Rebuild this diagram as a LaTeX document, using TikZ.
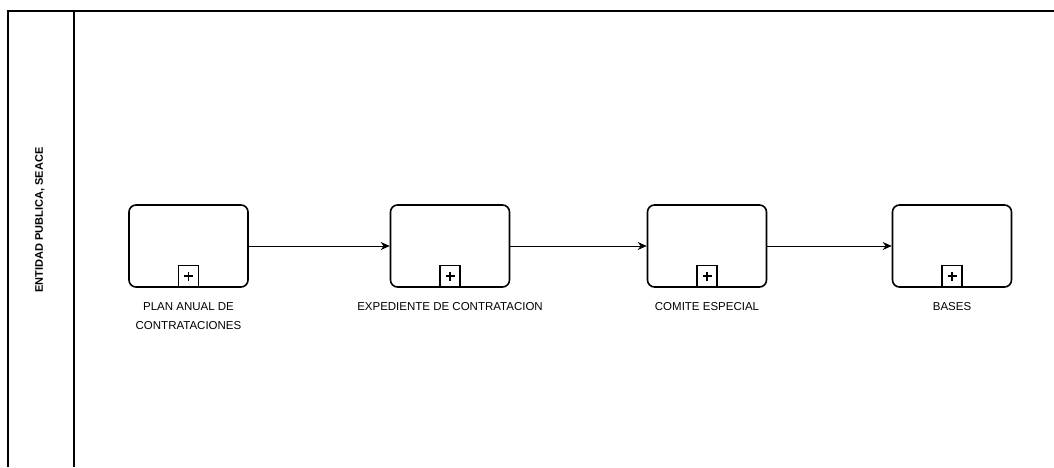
\documentclass[tikz,border=0pt]{standalone}
\usepackage{fontspec}
\setmainfont{Liberation Sans}
\usetikzlibrary{arrows.meta}
\begin{document}
\begin{tikzpicture}[x=1pt,y=-1pt,
  task/.style={draw, line width=1.6pt, rounded corners=7pt, minimum width=119pt, minimum height=82pt, inner sep=0pt},
  marker/.style={draw, line width=1.3pt, minimum width=20pt, minimum height=22pt, inner sep=0pt, anchor=south},
  lbl/.style={font=\fontsize{11.5}{19}\selectfont, align=center, anchor=north, inner sep=0pt},
  flow/.style={line width=0.9pt, -{Stealth[length=9pt,width=8pt]}},
  frame/.style={line width=1.2pt}]
\useasboundingbox (0,0) rectangle (1054,467);
% pool frame
\coordinate (tl) at (8,11);
\coordinate (tr) at (1054,11);
\coordinate (bl) at (8,467);
\coordinate (dt) at (74,11);
\coordinate (db) at (74,467);
\draw[frame] (bl) -- (tl) -- (tr);
\draw[frame] (dt) -- (db);
\node[rotate=90, font=\bfseries\fontsize{11}{13}\selectfont] (lane) at (40,220) {ENTIDAD PUBLICA, SEACE};
% tasks
\node[task] (t1) at (188.5,246) {};
\node[task] (t2) at (450,246) {};
\node[task] (t3) at (707,246) {};
\node[task] (t4) at (952,246) {};
\foreach \t in {t1,t2,t3,t4}{
  \node[marker] (\t m) at (\t.south) {};
  \draw[line width=1.5pt] ([yshift=-4.5pt]\t m.center) -- ([yshift=4.5pt]\t m.center);
  \draw[line width=1.5pt] ([xshift=-4.5pt]\t m.center) -- ([xshift=4.5pt]\t m.center);
}
\node[lbl] (l1) at (188.5,302) {PLAN ANUAL DE\\CONTRATACIONES};
\node[lbl] (l2) at (450,302) {EXPEDIENTE DE CONTRATACION};
\node[lbl] (l3) at (707,302) {COMITE ESPECIAL};
\node[lbl] (l4) at (952,302) {BASES};
\draw[flow] (t1) -- (t2);
\draw[flow] (t2) -- (t3);
\draw[flow] (t3) -- (t4);
\end{tikzpicture}
\end{document}
